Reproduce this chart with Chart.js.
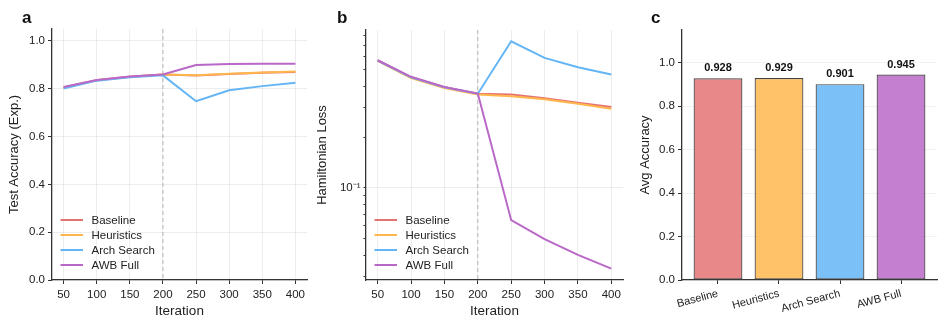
<!DOCTYPE html>
<html>
<head>
<meta charset="utf-8">
<script src="https://cdn.jsdelivr.net/npm/chart.js@4/dist/chart.umd.min.js"></script>
<style>
  html, body { margin: 0; padding: 0; background: #fff; }
  #wrap { position: relative; width: 947px; height: 327px; overflow: hidden; }
  canvas { position: absolute; top: 0; }
</style>
</head>
<body>
<div id="wrap">
  <canvas id="chartA" width="315" height="327" style="left:0px"></canvas>
  <canvas id="chartB" width="320" height="327" style="left:310px"></canvas>
  <canvas id="chartC" width="317" height="327" style="left:630px"></canvas>
</div>
<script>
// datos
const iterations = [50, 100, 150, 200, 250, 300, 350, 400];
const methods = ['Baseline', 'Heuristics', 'Arch Search', 'AWB Full'];

const accBaseline   = [0.805, 0.836, 0.850, 0.860, 0.856, 0.862, 0.867, 0.870];
const accHeuristics = [0.805, 0.836, 0.850, 0.860, 0.857, 0.863, 0.868, 0.872];
const accArch       = [0.801, 0.834, 0.848, 0.856, 0.748, 0.794, 0.811, 0.825];
const accAwb        = [0.807, 0.837, 0.851, 0.860, 0.899, 0.904, 0.905, 0.905];

const lossBaseline   = [0.568, 0.452, 0.394, 0.361, 0.357, 0.340, 0.319, 0.301];
const lossHeuristics = [0.565, 0.447, 0.390, 0.357, 0.349, 0.335, 0.315, 0.294];
const lossArch       = [0.568, 0.452, 0.394, 0.361, 0.738, 0.589, 0.518, 0.469];
const lossAwb        = [0.570, 0.455, 0.396, 0.362, 0.0644, 0.0498, 0.0401, 0.0333];

const avgAccuracy = [0.928, 0.929, 0.901, 0.945];

const xTicks = [50, 100, 150, 200, 250, 300, 350, 400];
const accTicks = [0, 0.2, 0.4, 0.6, 0.8, 1.0];
const lossTicks = [0.03, 0.04, 0.05, 0.06, 0.07, 0.08, 0.09, 0.1, 0.2, 0.3, 0.4, 0.5, 0.6, 0.7, 0.8];
const switchIter = 200;

const lineColors = ['#E57373', '#FFB74D', '#64B5F6', '#BA68C8'];
const barColors = ['rgba(229,115,115,0.85)', 'rgba(255,183,77,0.85)', 'rgba(100,181,246,0.85)', 'rgba(186,104,200,0.85)'];

Chart.defaults.font.family = "'Liberation Sans', Arial, Helvetica, sans-serif";
Chart.defaults.color = '#222';
Chart.defaults.animation = false;

const FONT = Chart.defaults.font.family;
const GRID = 'rgba(0,0,0,0.07)';
const AXIS = '#333';

// letra del panel
const panelLetter = {
    id: 'panelLetter',
    afterDraw(chart, args, opts) {
        const c = chart.ctx;
        c.save();
        c.font = 'bold 17px ' + FONT;
        c.fillStyle = '#111';
        c.textBaseline = 'alphabetic';
        c.fillText(opts.text, opts.x, 23);
        c.restore();
    }
};

// linea vertical discontinua
const switchLine = {
    id: 'switchLine',
    beforeDatasetsDraw(chart) {
        const x = chart.scales.x.getPixelForValue(switchIter);
        const a = chart.chartArea;
        const c = chart.ctx;
        c.save();
        c.strokeStyle = '#b5b5b5';
        c.lineWidth = 1;
        c.setLineDash([4, 3]);
        c.beginPath();
        c.moveTo(x, a.top);
        c.lineTo(x, a.bottom);
        c.stroke();
        c.restore();
    }
};

// leyenda dentro del grafico
const innerLegend = {
    id: 'innerLegend',
    afterDatasetsDraw(chart) {
        const a = chart.chartArea;
        const c = chart.ctx;
        const sets = chart.data.datasets;
        c.save();
        c.font = '11.5px ' + FONT;
        c.textBaseline = 'middle';
        sets.forEach((ds, i) => {
            const y = a.bottom - 15 - (sets.length - 1 - i) * 15;
            c.strokeStyle = ds.borderColor;
            c.lineWidth = 2;
            c.beginPath();
            c.moveTo(a.left + 8.5, y);
            c.lineTo(a.left + 31, y);
            c.stroke();
            c.fillStyle = '#222';
            c.fillText(ds.label, a.left + 39.5, y + 0.5);
        });
        c.restore();
    }
};

// etiquetas de valor sobre barras
const barValues = {
    id: 'barValues',
    afterDatasetsDraw(chart) {
        const c = chart.ctx;
        const meta = chart.getDatasetMeta(0);
        c.save();
        c.font = 'bold 11px ' + FONT;
        c.fillStyle = '#111';
        c.textAlign = 'center';
        c.textBaseline = 'middle';
        meta.data.forEach((bar, i) => {
            c.fillText(avgAccuracy[i].toFixed(3), bar.x, bar.y - 10);
        });
        c.restore();
    }
};

function toPoints(vals) {
    return vals.map((v, i) => ({ x: iterations[i], y: v }));
}

function lineDatasets(series) {
    return series.map((vals, i) => ({
        label: methods[i],
        data: toPoints(vals),
        borderColor: lineColors[i],
        backgroundColor: lineColors[i],
        borderWidth: 2,
        pointRadius: 0,
        tension: 0,
        order: series.length - i
    }));
}

function xAxis() {
    return {
        type: 'linear',
        min: 32.5,
        max: 417.5,
        afterBuildTicks: s => { s.ticks = xTicks.map(v => ({ value: v })); },
        afterFit: s => { s.height = 47; },
        ticks: { font: { size: 11.5 }, padding: 4, autoSkip: false, maxRotation: 0 },
        grid: { color: GRID, tickColor: AXIS, tickLength: 4 },
        border: { display: true, color: AXIS, width: 1.3 },
        title: { display: true, text: 'Iteration', font: { size: 13.5 }, padding: { top: 0, bottom: 8 } }
    };
}

// panel a
new Chart(document.getElementById('chartA'), {
    type: 'line',
    data: { datasets: lineDatasets([accBaseline, accHeuristics, accArch, accAwb]) },
    options: {
        responsive: false,
        layout: { padding: { top: 29, right: 8, left: 0, bottom: 0 } },
        plugins: {
            legend: { display: false },
            tooltip: { enabled: false },
            panelLetter: { text: 'a', x: 22 }
        },
        scales: {
            x: xAxis(),
            y: {
                min: 0,
                max: 1.05,
                afterBuildTicks: s => { s.ticks = accTicks.map(v => ({ value: v })); },
                afterFit: s => { s.width = 52; },
                ticks: { font: { size: 11.5 }, padding: 3, callback: v => v.toFixed(1) },
                grid: { color: GRID, tickColor: AXIS, tickLength: 4 },
                border: { display: true, color: AXIS, width: 1.3 },
                title: { display: true, text: 'Test Accuracy (Exp.)', font: { size: 13 }, padding: { top: 7, bottom: 0 } }
            }
        }
    },
    plugins: [panelLetter, switchLine, innerLegend]
});

// panel b
new Chart(document.getElementById('chartB'), {
    type: 'line',
    data: { datasets: lineDatasets([lossBaseline, lossHeuristics, lossArch, lossAwb]) },
    options: {
        responsive: false,
        layout: { padding: { top: 30, right: 7, left: 0, bottom: 0 } },
        plugins: {
            legend: { display: false },
            tooltip: { enabled: false },
            panelLetter: { text: 'b', x: 27 }
        },
        scales: {
            x: xAxis(),
            y: {
                type: 'logarithmic',
                min: 0.0285,
                max: 0.861,
                afterBuildTicks: s => { s.ticks = lossTicks.map(v => ({ value: v })); },
                afterFit: s => { s.width = 56; },
                ticks: {
                    font: { size: 11.5 }, padding: 3, autoSkip: false,
                    callback: v => (v === 0.1 ? '10\u207B\u00B9' : '')
                },
                grid: {
                    color: ctx => (ctx.tick && ctx.tick.value === 0.1 ? GRID : 'rgba(0,0,0,0)'),
                    tickColor: AXIS,
                    tickLength: ctx => (ctx.tick && ctx.tick.value === 0.1 ? 4 : 2.5)
                },
                border: { display: true, color: AXIS, width: 1.3 },
                title: { display: true, text: 'Hamiltonian Loss', font: { size: 13 }, padding: { top: 5, bottom: 0 } }
            }
        }
    },
    plugins: [panelLetter, switchLine, innerLegend]
});

// panel c
new Chart(document.getElementById('chartC'), {
    type: 'bar',
    data: {
        datasets: [{
            label: 'Avg Accuracy',
            data: avgAccuracy.map((v, i) => ({ x: i, y: v })),
            backgroundColor: barColors,
            borderColor: '#444',
            borderWidth: 1.2,
            borderSkipped: false,
            barPercentage: 0.8,
            categoryPercentage: 1.0
        }]
    },
    options: {
        responsive: false,
        layout: { padding: { top: 30, right: 10, left: 0, bottom: 0 } },
        plugins: {
            legend: { display: false },
            tooltip: { enabled: false },
            panelLetter: { text: 'c', x: 21 }
        },
        scales: {
            x: {
                type: 'linear',
                min: -0.59,
                max: 3.59,
                offset: false,
                afterBuildTicks: s => { s.ticks = methods.map((m, i) => ({ value: i })); },
                afterFit: s => { s.height = 47; },
                ticks: {
                    font: { size: 11 }, padding: 3, autoSkip: false,
                    minRotation: 15, maxRotation: 15,
                    callback: v => methods[v]
                },
                grid: { offset: false, drawOnChartArea: false, tickColor: AXIS, tickLength: 4 },
                border: { display: true, color: AXIS, width: 1.3 }
            },
            y: {
                min: 0,
                max: 1.15,
                afterBuildTicks: s => { s.ticks = accTicks.map(v => ({ value: v })); },
                afterFit: s => { s.width = 52; },
                ticks: { font: { size: 11.5 }, padding: 3, callback: v => v.toFixed(1) },
                grid: { color: 'rgba(0,0,0,0.05)', tickColor: AXIS, tickLength: 4 },
                border: { display: true, color: AXIS, width: 1.3 },
                title: { display: true, text: 'Avg Accuracy', font: { size: 13 }, padding: { top: 8, bottom: 0 } }
            }
        }
    },
    plugins: [panelLetter, barValues]
});
</script>
</body>
</html>
